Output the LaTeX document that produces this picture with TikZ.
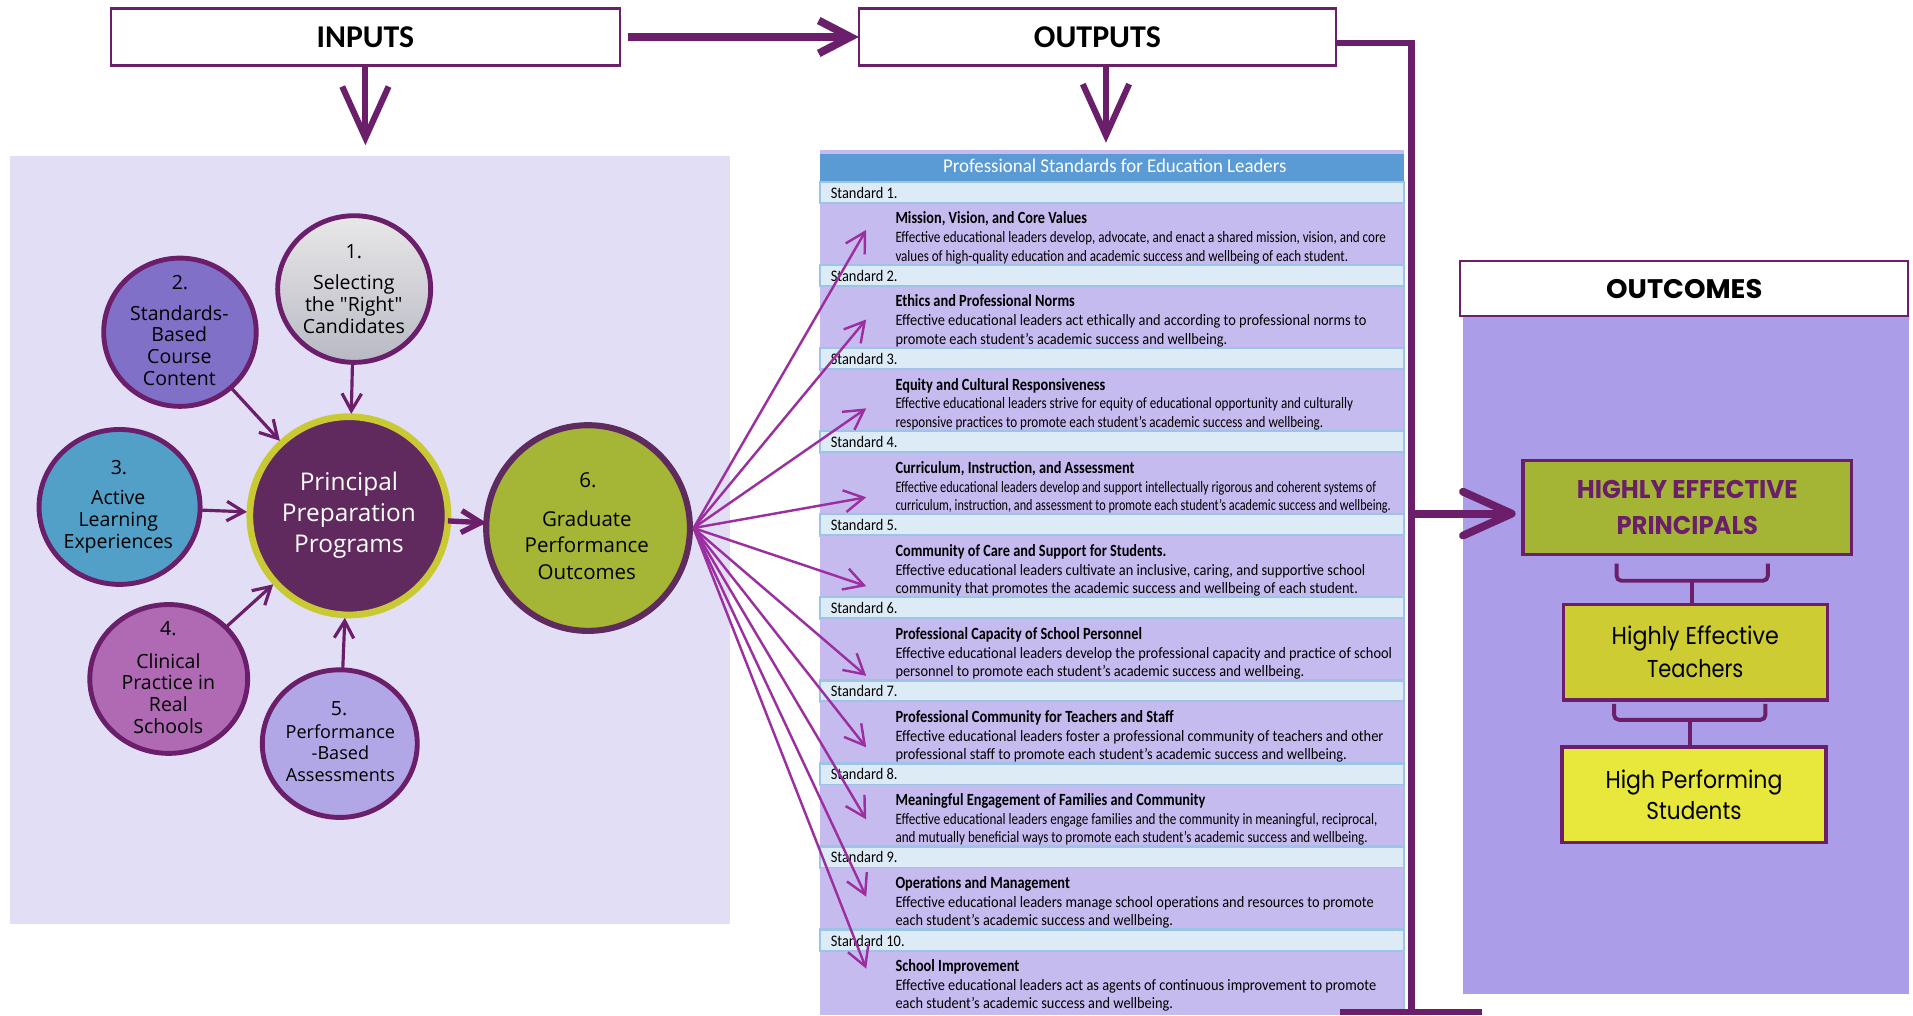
\documentclass[tikz,border=0pt]{standalone}
\usepackage{fontspec}
\setmainfont{Carlito}
\newfontfamily\osans{Open Sans}
\newfontfamily\pop{Poppins}
\usepackage{graphicx}
\usetikzlibrary{arrows.meta,shapes.geometric}
\newdimen\upx \upx=0.5pt
\newsavebox\fitbox
\newcommand\fitw[2]{\sbox\fitbox{#2}\resizebox{#1}{\ht\fitbox}{\usebox\fitbox}}
\definecolor{dpurple}{HTML}{6B1F6B}
\definecolor{fanp}{HTML}{9C2FA0}
\definecolor{lpanel}{HTML}{E2DEF5}
\definecolor{rpanel}{HTML}{AB9DE8}
\definecolor{hdrblue}{HTML}{5B9BD5}
\definecolor{lblrow}{HTML}{DDEBF7}
\definecolor{lblborder}{HTML}{9DC3E6}
\definecolor{cntrow}{HTML}{C6BBEF}
\definecolor{c2fill}{HTML}{8170C8}
\definecolor{c3fill}{HTML}{529FC8}
\definecolor{c4fill}{HTML}{B06AB3}
\definecolor{c5fill}{HTML}{B2A7E6}
\definecolor{cenfill}{HTML}{612A5F}
\definecolor{cenring}{HTML}{C9C934}
\definecolor{c6fill}{HTML}{A5B535}
\definecolor{c6ring}{HTML}{5F2B5E}
\definecolor{hepfill}{HTML}{A4B536}
\definecolor{hetfill}{HTML}{CDCC33}
\definecolor{hpsfill}{HTML}{E8E83C}
\definecolor{c1top}{HTML}{E8E8E8}
\definecolor{c1bot}{HTML}{B9B9C5}
\newcommand\stdrow[6]{%
  \draw[draw=lblborder, line width=1pt, fill=lblrow] (672,#1) rectangle (1151,#1+17.5);
  \node[anchor=base west, font=\fontsize{6.6pt}{8pt}\selectfont] (#6-lab) at (681,#1+13.5) {#2};
  \fill[cntrow] (672,#1+18) rectangle (1151,#1+68.1);
  \node[anchor=base west, font=\bfseries\fontsize{7pt}{8pt}\selectfont] (#6-ti) at (734,#1+34.5) {#3};
  \node[anchor=base west, font=\fontsize{6.5pt}{8pt}\selectfont] (#6-l1) at (734,#1+50) {#4};
  \node[anchor=base west, font=\fontsize{6.5pt}{8pt}\selectfont] (#6-l2) at (734,#1+65) {#5};
}
\begin{document}
\begin{tikzpicture}[x=0.5pt,y=-0.5pt,
  every node/.style={inner sep=0pt, outer sep=0pt},
  topbox/.style={draw=dpurple, line width=1pt, fill=white, minimum height=23.35pt, font=\bfseries\fontsize{13pt}{15pt}\selectfont},
  circ/.style={ellipse, draw=dpurple, line width=2pt},
  ctext/.style={align=center, font=\osans\fontsize{8pt}{8.9pt}\selectfont},
  carrow/.style={draw=dpurple, line width=1.3pt, shorten >=1.2pt, -{Straight Barb[length=7pt,width=8pt]}},
  fan/.style={draw=fanp, line width=1pt, -{Straight Barb[length=8pt,width=9pt]}},
  vline/.style={draw=dpurple, line width=2.6pt},
  obox/.style={draw=dpurple, line width=1.3pt, align=center},
  bracket/.style={draw=dpurple, line width=1.6pt, rounded corners=2pt}
]
\useasboundingbox (0,0) rectangle (1568,832);
\fill[white] (0,0) rectangle (1568,832);

% panels
\fill[lpanel] (8,128) rectangle (598,757.5);
\fill[rpanel] (1199,260) rectangle (1565,815);

% top boxes
\node[topbox, minimum width=208.5pt] (inputs) at (299.5,30.3) {\fitw{80\upx}{INPUTS}};
\node[topbox, minimum width=195.5pt] (outputs) at (899.5,30.3) {\fitw{104\upx}{OUTPUTS}};
\draw[draw=dpurple, line width=3.2pt, shorten <=3.5pt, -{Straight Barb[length=13pt,width=13.5pt]}] (inputs) -- (outputs);
\coordinate (ina) at (299.5,119);
\coordinate (oda) at (906.5,117);
\draw[draw=dpurple, line width=2.5pt, -{Straight Barb[length=21pt,width=19pt]}] (inputs.south) -- (ina);
\draw[draw=dpurple, line width=2.5pt, -{Straight Barb[length=21pt,width=19pt]}] (oda |- outputs.south) -- (oda);

% circles
\node[circ, top color=c1top, bottom color=c1bot, minimum width=62.7pt, minimum height=60.1pt] (c1) at (290.3,236.9) {};
\node[circ, fill=c2fill, minimum width=62.5pt, minimum height=60.75pt] (c2) at (147.5,272.3) {};
\node[circ, fill=c3fill, minimum width=66pt, minimum height=63.5pt] (c3) at (98,415.5) {};
\node[circ, fill=c4fill, minimum width=64.7pt, minimum height=61pt] (c4) at (138.3,556.5) {};
\node[circ, fill=c5fill, minimum width=63.5pt, minimum height=60.5pt] (c5) at (278.5,609.5) {};
\node[circle, draw=cenring, line width=2.75pt, fill=cenfill, minimum size=81.25pt] (cen) at (286,422.8) {};
\node[ellipse, draw=c6ring, line width=2.5pt, fill=c6fill, minimum width=83.5pt, minimum height=84.3pt] (c6) at (482,432.8) {};

\node[ctext] (c1-n) at (290,206) {1.};
\node[ctext] (c1-t) at (290,249.2) {Selecting\\the "Right"\\Candidates};
\node[ctext] (c2-n) at (147.5,232) {2.};
\node[ctext] (c2-t) at (147,283.1) {Standards-\\Based\\Course\\Content};
\node[ctext] (c3-n) at (97.5,383) {3.};
\node[ctext] (c3-t) at (97,427.5) {Active\\Learning\\Experiences};
\node[ctext] (c4-n) at (138,515.5) {4.};
\node[ctext] (c4-t) at (138,568.3) {Clinical\\Practice in\\Real\\Schools};
\node[ctext] (c5-n) at (278,580.8) {5.};
\node[ctext, font=\osans\fontsize{7.4pt}{8.85pt}\selectfont] (c5-t) at (279,617.3) {Performance\\-Based\\Assessments};
\node[align=center, text=white, font=\osans\fontsize{10pt}{12.75pt}\selectfont] (cen-t) at (286,422.5) {Principal\\Preparation\\Programs};
\node[ctext, font=\osans\fontsize{8.4pt}{10.9pt}\selectfont] (c6-n) at (482,394) {6.};
\node[ctext, font=\osans\fontsize{8.4pt}{10.9pt}\selectfont] (c6-t) at (481,446.8) {Graduate\\Performance\\Outcomes};

\draw[carrow] (c1) -- (cen);
\draw[carrow] (c2) -- (cen);
\draw[carrow] (c3) -- (cen);
\draw[carrow] (c4) -- (cen);
\draw[carrow] (c5) -- (cen);
\draw[draw=dpurple, line width=2.2pt, -{Straight Barb[length=8pt,width=9pt]}] (cen) -- (c6);

% standards table
\fill[cntrow] (672,123) rectangle (1151,126);
\fill[hdrblue] (672,126) rectangle (1151,149);
\node[anchor=base, text=white, font=\fontsize{8pt}{10pt}\selectfont] (hdr) at (913.8,141.6) {\fitw{281.5\upx}{Professional Standards for Education Leaders}};

\stdrow{149}{\fitw{54.7\upx}{Standard 1.}}{\fitw{157\upx}{Mission, Vision, and Core Values}}{\fitw{402\upx}{Effective educational leaders develop, advocate, and enact a shared mission, vision, and core}}{\fitw{371\upx}{values of high-quality education and academic success and wellbeing of each student.}}{s1}
\stdrow{217.1}{\fitw{54.7\upx}{Standard 2.}}{\fitw{147\upx}{Ethics and Professional Norms}}{\fitw{386\upx}{Effective educational leaders act ethically and according to professional norms to}}{\fitw{272\upx}{promote each student’s academic success and wellbeing.}}{s2}
\stdrow{285.2}{\fitw{54.7\upx}{Standard 3.}}{\fitw{172\upx}{Equity and Cultural Responsiveness}}{\fitw{375\upx}{Effective educational leaders strive for equity of educational opportunity and culturally}}{\fitw{350.5\upx}{responsive practices to promote each student’s academic success and wellbeing.}}{s3}
\stdrow{353.3}{\fitw{54.7\upx}{Standard 4.}}{\fitw{196\upx}{Curriculum, Instruction, and Assessment}}{\fitw{394\upx}{Effective educational leaders develop and support intellectually rigorous and coherent systems of}}{\fitw{406\upx}{curriculum, instruction, and assessment to promote each student’s academic success and wellbeing.}}{s4}
\stdrow{421.4}{\fitw{54.7\upx}{Standard 5.}}{\fitw{222\upx}{Community of Care and Support for Students.}}{\fitw{385\upx}{Effective educational leaders cultivate an inclusive, caring, and supportive school}}{\fitw{379\upx}{community that promotes the academic success and wellbeing of each student.}}{s5}
\stdrow{489.5}{\fitw{54.7\upx}{Standard 6.}}{\fitw{202\upx}{Professional Capacity of School Personnel}}{\fitw{407\upx}{Effective educational leaders develop the professional capacity and practice of school}}{\fitw{335\upx}{personnel to promote each student’s academic success and wellbeing.}}{s6}
\stdrow{557.6}{\fitw{54.7\upx}{Standard 7.}}{\fitw{228\upx}{Professional Community for Teachers and Staff}}{\fitw{400\upx}{Effective educational leaders foster a professional community of teachers and other}}{\fitw{370\upx}{professional staff to promote each student’s academic success and wellbeing.}}{s7}
\stdrow{625.7}{\fitw{54.7\upx}{Standard 8.}}{\fitw{254\upx}{Meaningful Engagement of Families and Community}}{\fitw{395\upx}{Effective educational leaders engage families and the community in meaningful, reciprocal,}}{\fitw{387\upx}{and mutually beneficial ways to promote each student’s academic success and wellbeing.}}{s8}
\stdrow{693.8}{\fitw{54.7\upx}{Standard 9.}}{\fitw{143\upx}{Operations and Management}}{\fitw{392\upx}{Effective educational leaders manage school operations and resources to promote}}{\fitw{227.5\upx}{each student’s academic success and wellbeing.}}{s9}
\stdrow{761.9}{\fitw{60.5\upx}{Standard 10.}}{\fitw{101.5\upx}{School Improvement}}{\fitw{394\upx}{Effective educational leaders act as agents of continuous improvement to promote}}{\fitw{227.5\upx}{each student’s academic success and wellbeing.}}{s10}
\fill[cntrow] (672,830) rectangle (1151,832);
\draw[lblborder, line width=1pt] (1151,149) -- (1151,832);

% fan arrows
\coordinate (fo) at ([xshift=1.5pt]c6.east);
\foreach \yy [count=\i] in {188.4,261.8,334.7,407.6,480.4,554,612.6,671.6,735,794}{
  \coordinate (t\i) at (710,\yy);
  \draw[fan] (fo) -- (t\i);
}

% outputs line
\coordinate (vbot) at (1157,829.5);
\coordinate (bl) at (1098,829.5);
\coordinate (br) at (1215,829.5);
\draw[vline] ([yshift=-2.5pt]outputs.east) -| (vbot);
\draw[vline] (bl) -- (br);

% outcomes
\node[draw=dpurple, line width=0.8pt, fill=white, minimum width=183.5pt, minimum height=22.5pt, font=\pop\bfseries\fontsize{11pt}{13pt}\selectfont] (outc) at (1380.5,236.5) {\fitw{128\upx}{OUTCOMES}};
\node[obox, fill=hepfill, minimum width=134.7pt, minimum height=38.7pt, text=dpurple, font=\pop\bfseries\fontsize{10.5pt}{14.5pt}\selectfont] (hep) at (1383,416) {\fitw{181\upx}{HIGHLY EFFECTIVE}\\\fitw{116\upx}{PRINCIPALS}};
\node[obox, fill=hetfill, minimum width=108.2pt, minimum height=39.2pt, font=\pop\fontsize{10pt}{13.5pt}\selectfont] (het) at (1389.5,534.5) {\fitw{137\upx}{Highly Effective}\\\fitw{79\upx}{Teachers}};
\node[obox, fill=hpsfill, minimum width=108.2pt, minimum height=39.2pt, font=\pop\fontsize{10pt}{12.5pt}\selectfont] (hps) at (1388.5,651.5) {\fitw{145\upx}{High Performing}\\\fitw{78\upx}{Students}};

\coordinate (oa) at (1160,421);
\draw[draw=dpurple, line width=3.2pt, shorten >=3pt, -{Straight Barb[length=20pt,width=18pt,round]}] (oa) -- (oa -| hep.west);

\coordinate (b1) at (1387,476);
\draw[bracket] (1325,462) |- (b1) -| (1449,462);
\draw[bracket] (b1) -- (b1 |- het.north);
\coordinate (b2) at (1385,590);
\draw[bracket] (1323,577) |- (b2) -| (1447,577);
\draw[bracket] (b2) -- (b2 |- hps.north);
\end{tikzpicture}
\end{document}
